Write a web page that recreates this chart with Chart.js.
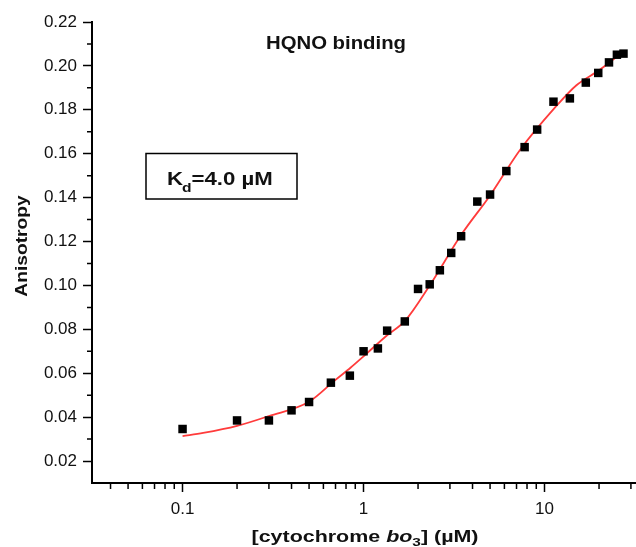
<!DOCTYPE html>
<html>
<head>
<meta charset="utf-8">
<script src="https://cdn.jsdelivr.net/npm/chart.js@4.4.1/dist/chart.umd.min.js"></script>
<style>
  html, body { margin: 0; padding: 0; background: #fff; overflow: hidden; }
  canvas { display: block; }
</style>
</head>
<body>
<!-- canvas is a few px wider than the window: Chart.js keeps ~5px on the right of the plot area -->
<canvas id="chart" width="641" height="547"></canvas>
<script>
// measured points: [cytochrome bo3] (uM) vs anisotropy
const concentration = [0.1, 0.2, 0.3, 0.4, 0.5, 0.66, 0.84, 1.0, 1.2, 1.35, 1.69, 2.0, 2.32, 2.64, 3.05, 3.46, 4.25, 5.0, 6.15, 7.76, 9.1, 11.2, 13.8, 16.9, 19.8, 22.7, 25.1, 27.3];
const anisotropy = [0.0346, 0.0385, 0.0385, 0.0431, 0.0469, 0.0557, 0.0589, 0.0700, 0.0713, 0.0794, 0.0836, 0.0984, 0.1005, 0.1069, 0.1148, 0.1224, 0.1382, 0.1414, 0.1521, 0.1630, 0.1710, 0.1837, 0.1852, 0.1924, 0.1968, 0.2016, 0.2051, 0.2056];

// fitted curve
const fitX = [0.1, 0.13, 0.2, 0.3, 0.5, 0.7, 0.85, 1.0, 1.35, 1.7, 2.3, 3.5, 5, 7.3, 11.5, 15, 20, 27];
const fitY = [0.0314, 0.0328, 0.036, 0.0405, 0.047, 0.057, 0.0626, 0.0677, 0.0773, 0.084, 0.0995, 0.1236, 0.141, 0.1616, 0.1813, 0.1912, 0.198, 0.2063];

const xMajorTicks = [0.1, 1, 10];
const xMinorTicks = [0.04, 0.05, 0.06, 0.07, 0.08, 0.09, 0.2, 0.3, 0.4, 0.5, 0.6, 0.7, 0.8, 0.9, 2, 3, 4, 5, 6, 7, 8, 9, 20, 30];
const yMajorTicks = [0.02, 0.04, 0.06, 0.08, 0.10, 0.12, 0.14, 0.16, 0.18, 0.20, 0.22];
const yMinorTicks = [0.03, 0.05, 0.07, 0.09, 0.11, 0.13, 0.15, 0.17, 0.19, 0.21];

const plotTitle = 'HQNO binding';
const kdText = ['K', 'd', '=4.0 \u00b5M'];
const yTitle = 'Anisotropy';
const xTitleParts = ['[cytochrome ', 'bo', '3', '] (\u00b5M)'];

const FONT = '"Liberation Sans", Arial, Helvetica, sans-serif';

function stretched(ctx, text, x, y, sx) {
    ctx.save();
    ctx.translate(x, y);
    ctx.scale(sx, 1);
    ctx.fillText(text, 0, 0);
    ctx.restore();
}

const decorations = {
    id: 'decorations',
    afterDraw(chart) {
        const ctx = chart.ctx;
        const xs = chart.scales.x;
        const ys = chart.scales.y;
        ctx.save();

        // minor ticks
        ctx.strokeStyle = '#000';
        ctx.lineWidth = 1.5;
        ctx.beginPath();
        xMinorTicks.forEach(v => {
            const px = xs.getPixelForValue(v);
            ctx.moveTo(px, xs.top);
            ctx.lineTo(px, xs.top + 6);
        });
        yMinorTicks.forEach(v => {
            const py = ys.getPixelForValue(v);
            ctx.moveTo(ys.right - 5, py);
            ctx.lineTo(ys.right, py);
        });
        ctx.stroke();

        ctx.fillStyle = '#111';
        ctx.textBaseline = 'alphabetic';

        // title
        ctx.font = 'bold 18px ' + FONT;
        ctx.textAlign = 'left';
        const sxTitle = 1.13;
        const tw = ctx.measureText(plotTitle).width * sxTitle;
        stretched(ctx, plotTitle, 336 - tw / 2, 49, sxTitle);

        // Kd box
        ctx.lineWidth = 1.5;
        ctx.strokeRect(146, 153.5, 151, 45.5);
        const sxKd = 1.2;
        let kx = 167;
        ctx.font = 'bold 18.5px ' + FONT;
        stretched(ctx, kdText[0], kx, 185, sxKd);
        kx += ctx.measureText(kdText[0]).width * sxKd;
        ctx.font = 'bold 13px ' + FONT;
        stretched(ctx, kdText[1], kx - 1, 192, sxKd);
        kx += ctx.measureText(kdText[1]).width * sxKd - 1;
        ctx.font = 'bold 18.5px ' + FONT;
        stretched(ctx, kdText[2], kx, 185, sxKd);

        // y title
        ctx.save();
        ctx.translate(27, 246);
        ctx.rotate(-Math.PI / 2);
        ctx.font = 'bold 16px ' + FONT;
        const sxY = 1.2;
        const yw = ctx.measureText(yTitle).width * sxY;
        stretched(ctx, yTitle, -yw / 2, 0, sxY);
        ctx.restore();

        // x title with italic and subscript
        const sxX = 1.34;
        const fonts = ['bold 16px ' + FONT, 'italic bold 16px ' + FONT, 'bold 11.5px ' + FONT, 'bold 16px ' + FONT];
        const shifts = [0, 0, 4, 0];
        const widths = xTitleParts.map((t, i) => {
            ctx.font = fonts[i];
            return ctx.measureText(t).width * sxX;
        });
        const total = widths.reduce((a, b) => a + b, 0);
        let tx = 365 - total / 2;
        xTitleParts.forEach((t, i) => {
            ctx.font = fonts[i];
            stretched(ctx, t, tx, 542 + shifts[i], sxX);
            tx += widths[i];
        });

        ctx.restore();
    }
};

new Chart(document.getElementById('chart'), {
    type: 'scatter',
    data: {
        datasets: [
            {
                label: 'data',
                data: concentration.map((c, i) => ({ x: c, y: anisotropy[i] })),
                pointStyle: 'rect',
                pointRadius: 6,
                pointBackgroundColor: '#000',
                pointBorderWidth: 0,
                showLine: false
            },
            {
                label: 'fit',
                type: 'line',
                data: fitX.map((c, i) => ({ x: c, y: fitY[i] })),
                borderColor: '#ff3b3b',
                borderWidth: 1.8,
                pointRadius: 0,
                fill: false,
                cubicInterpolationMode: 'monotone'
            }
        ]
    },
    options: {
        responsive: false,
        animation: false,
        layout: { padding: { top: 22, right: 0, left: 0, bottom: 0 } },
        plugins: {
            legend: { display: false },
            tooltip: { enabled: false }
        },
        scales: {
            x: {
                type: 'logarithmic',
                position: 'bottom',
                min: 0.0316,
                max: 31.6,
                afterBuildTicks: s => { s.ticks = xMajorTicks.map(v => ({ value: v })); },
                afterFit: s => { s.height = 64; },
                ticks: {
                    autoSkip: false,
                    maxRotation: 0,
                    padding: 7,
                    color: '#111',
                    font: { family: FONT, size: 17 },
                    callback: v => String(v)
                },
                grid: {
                    drawOnChartArea: false,
                    drawTicks: true,
                    tickLength: 9,
                    tickColor: '#000',
                    tickWidth: 1.5
                },
                border: { display: true, color: '#000', width: 2 }
            },
            y: {
                type: 'linear',
                min: 0.01,
                max: 0.22,
                afterBuildTicks: s => { s.ticks = yMajorTicks.map(v => ({ value: v })); },
                afterFit: s => { s.width = 92; },
                ticks: {
                    padding: 6,
                    color: '#111',
                    font: { family: FONT, size: 17 },
                    callback: v => v.toFixed(2)
                },
                grid: {
                    drawOnChartArea: false,
                    drawTicks: true,
                    tickLength: 9,
                    tickColor: '#000',
                    tickWidth: 1.5
                },
                border: { display: true, color: '#000', width: 2 }
            }
        }
    },
    plugins: [decorations]
});
</script>
</body>
</html>
